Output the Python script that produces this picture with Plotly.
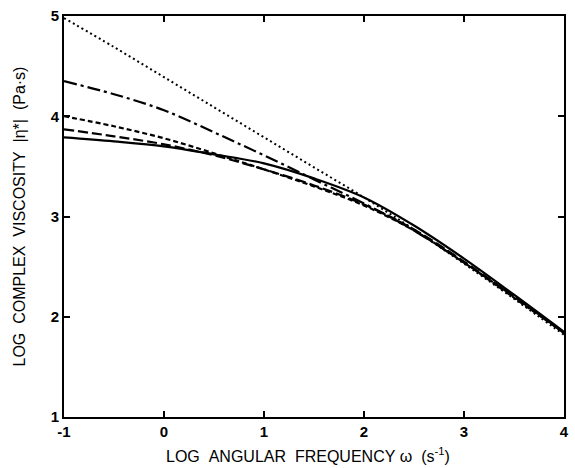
import plotly.graph_objects as go

log_omega = [-1, -0.5, 0, 0.5, 1, 1.5, 2, 2.5, 3, 3.5, 4]
solid = [3.79, 3.75, 3.70, 3.62, 3.53, 3.38, 3.19, 2.91, 2.58, 2.22, 1.85]
long_dash = [3.87, 3.80, 3.72, 3.61, 3.47, 3.31, 3.12, 2.87, 2.55, 2.20, 1.84]
short_dash = [4.00, 3.90, 3.78, 3.63, 3.47, 3.30, 3.11, 2.86, 2.54, 2.19, 1.84]
dash_dot = [4.35, 4.22, 4.06, 3.84, 3.61, 3.37, 3.13, 2.86, 2.54, 2.20, 1.84]
dotted = [4.98, 4.69, 4.39, 4.09, 3.79, 3.49, 3.19, 2.87, 2.53, 2.18, 1.82]

x_ticks = [-1, 0, 1, 2, 3, 4]
y_ticks = [1, 2, 3, 4, 5]

fig = go.Figure()
styles = [
    (solid, "solid", 2.2),
    (long_dash, "10px,4px", 2.2),
    (short_dash, "5px,3px", 2.2),
    (dash_dot, "13px,4px,3px,4px", 2.2),
    (dotted, "2px,3px", 2),
]
for ys, dash, w in styles:
    fig.add_trace(go.Scatter(x=log_omega, y=ys, mode="lines",
                             line=dict(color="black", width=w, dash=dash, shape="spline", smoothing=1.0),
                             showlegend=False, hoverinfo="skip"))

axis_common = dict(showgrid=False, zeroline=False, showline=True, linecolor="black", linewidth=2,
                   mirror="ticks", ticks="inside", ticklen=6, tickwidth=1.5, tickcolor="black",
                   tickfont=dict(family="Liberation Sans, Arial", size=15, color="black", weight="bold"))

fig.update_xaxes(range=[-1, 4], tickvals=x_ticks, ticktext=[str(v) for v in x_ticks], **axis_common)
fig.update_yaxes(range=[1, 5], tickvals=y_ticks, ticktext=[str(v) for v in y_ticks], **axis_common)

sp = "\u00a0\u00a0"
fig.add_annotation(text=f"LOG{sp}ANGULAR{sp}FREQUENCY\u00a0\u03c9{sp}(s<sup>-1</sup>)", xref="paper", yref="paper",
                   x=0.488, y=-0.095, xanchor="center", yanchor="middle", showarrow=False,
                   font=dict(family="Liberation Sans, Arial", size=16, color="black"))
fig.add_annotation(text=f"LOG{sp}COMPLEX{sp}VISCOSITY{sp}|\u03b7*|{sp}(Pa\u00b7s)", xref="paper", yref="paper",
                   x=-0.09, y=0.5, xanchor="center", yanchor="middle", textangle=-90, showarrow=False,
                   font=dict(family="Liberation Sans, Arial", size=16, color="black"))

fig.update_layout(width=575, height=468, margin=dict(l=64, r=6, t=16, b=51),
                  plot_bgcolor="white", paper_bgcolor="white")

fig.write_html("out.html")
